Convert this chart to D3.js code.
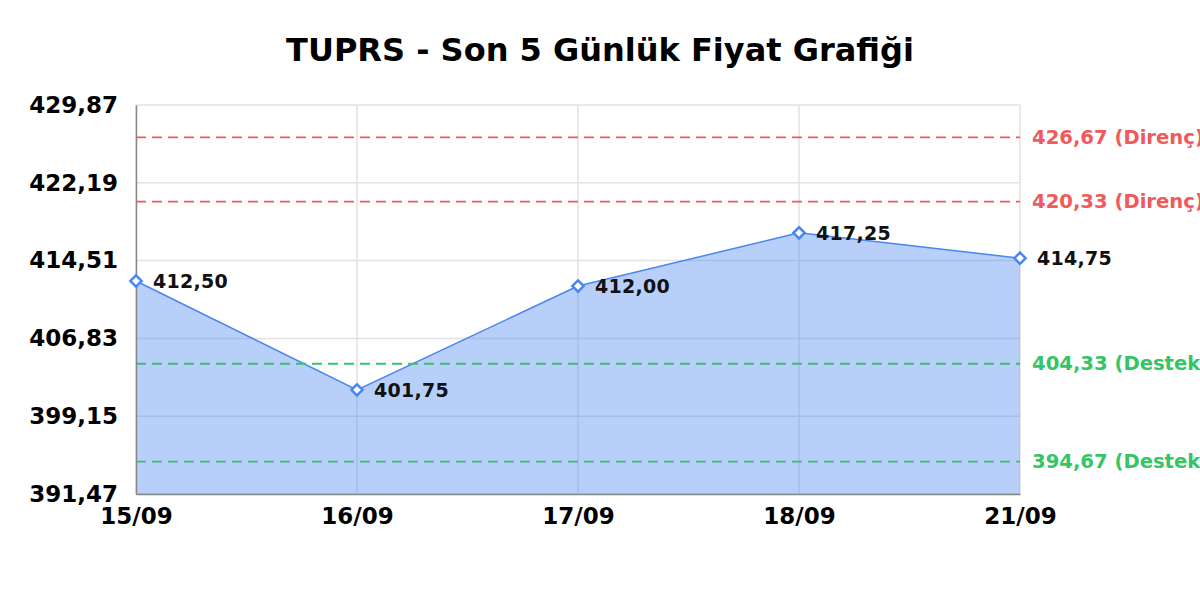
<!DOCTYPE html>
<html>
<head>
<meta charset="utf-8">
<script src="https://cdn.jsdelivr.net/npm/d3@7"></script>
<style>
  body { margin: 0; background: #fff; }
  svg { display: block; font-family: "DejaVu Sans", sans-serif; }
</style>
</head>
<body>
<div id="chart"></div>
<script>
const width = 1200;
const height = 600;
const margin = { top: 105, right: 180, bottom: 106, left: 136 };
const innerWidth = width - margin.left - margin.right;
const innerHeight = height - margin.top - margin.bottom;

// data
const dates = ["15/09", "16/09", "17/09", "18/09", "21/09"];
const prices = [412.50, 401.75, 412.00, 417.25, 414.75];
const yTicks = [391.47, 399.15, 406.83, 414.51, 422.19, 429.87];
const resistance = [426.67, 420.33];
const support = [404.33, 394.67];

const fmt = v => d3.format(".2f")(v).replace(".", ",");

const svg = d3.select("#chart")
  .append("svg")
  .attr("width", width)
  .attr("height", height);

svg.append("text")
  .attr("x", width / 2)
  .attr("y", 61)
  .attr("text-anchor", "middle")
  .style("font-size", "32px")
  .style("font-weight", "bold")
  .text("TUPRS - Son 5 Günlük Fiyat Grafiği");

const g = svg.append("g")
  .attr("transform", `translate(${margin.left},${margin.top})`);

const xScale = d3.scalePoint()
  .domain(dates)
  .range([0, innerWidth]);

const yScale = d3.scaleLinear()
  .domain([yTicks[0], yTicks[yTicks.length - 1]])
  .range([innerHeight, 0]);

// grid
g.append("g")
  .selectAll("line")
  .data(yTicks)
  .join("line")
  .attr("x1", 0)
  .attr("x2", innerWidth)
  .attr("y1", d => yScale(d))
  .attr("y2", d => yScale(d))
  .attr("stroke", "#e2e2e2")
  .attr("stroke-width", 1.5);

g.append("g")
  .selectAll("line")
  .data(dates)
  .join("line")
  .attr("x1", d => xScale(d))
  .attr("x2", d => xScale(d))
  .attr("y1", 0)
  .attr("y2", innerHeight)
  .attr("stroke", "#e2e2e2")
  .attr("stroke-width", 1.5);

// area + line
const points = dates.map((d, i) => ({ date: d, price: prices[i] }));

const area = d3.area()
  .x(d => xScale(d.date))
  .y0(innerHeight)
  .y1(d => yScale(d.price));

const line = d3.line()
  .x(d => xScale(d.date))
  .y(d => yScale(d.price));

g.append("path")
  .datum(points)
  .attr("d", area)
  .attr("fill", "#4a86f0")
  .attr("fill-opacity", 0.4);

g.append("path")
  .datum(points)
  .attr("d", line)
  .attr("fill", "none")
  .attr("stroke", "#4a86f0")
  .attr("stroke-width", 1.5);

// support / resistance lines
const levels = resistance.map(v => ({ v, label: "Direnç", color: "#f05a5a" }))
  .concat(support.map(v => ({ v, label: "Destek", color: "#33c566" })));

g.append("g")
  .selectAll("line")
  .data(levels)
  .join("line")
  .attr("x1", 0)
  .attr("x2", innerWidth)
  .attr("y1", d => yScale(d.v))
  .attr("y2", d => yScale(d.v))
  .attr("stroke", d => d.color)
  .attr("stroke-width", 1.8)
  .attr("stroke-dasharray", "10,6");

g.append("g")
  .selectAll("text")
  .data(levels)
  .join("text")
  .attr("x", innerWidth + 12)
  .attr("y", d => yScale(d.v))
  .attr("dominant-baseline", "central")
  .attr("fill", d => d.color)
  .style("font-size", "19.6px")
  .style("font-weight", "bold")
  .text(d => `${fmt(d.v)} (${d.label})`);

// axes
const yAxis = d3.axisLeft(yScale)
  .tickValues(yTicks)
  .tickSize(0)
  .tickPadding(18)
  .tickFormat(fmt);

const yAxisG = g.append("g").call(yAxis);
yAxisG.select(".domain").attr("stroke", "#888").attr("stroke-width", 1.5);
yAxisG.selectAll("text")
  .style("font-size", "23px")
  .style("font-weight", "bold")
  .style("font-family", "DejaVu Sans")
  .attr("fill", "#000");

const xAxis = d3.axisBottom(xScale)
  .tickSize(0)
  .tickPadding(14);

const xAxisG = g.append("g")
  .attr("transform", `translate(0,${innerHeight})`)
  .call(xAxis);
xAxisG.select(".domain").attr("stroke", "#888").attr("stroke-width", 1.5);
xAxisG.selectAll("text")
  .style("font-size", "23px")
  .style("font-weight", "bold")
  .style("font-family", "DejaVu Sans")
  .attr("fill", "#000");

// markers + value labels
g.append("g")
  .selectAll("path")
  .data(points)
  .join("path")
  .attr("d", d3.symbol().type(d3.symbolDiamond2).size(80))
  .attr("transform", d => `translate(${xScale(d.date)},${yScale(d.price)})`)
  .attr("fill", "#fff")
  .attr("stroke", "#4a86f0")
  .attr("stroke-width", 2.5);

g.append("g")
  .selectAll("text")
  .data(points)
  .join("text")
  .attr("x", d => xScale(d.date) + 17)
  .attr("y", d => yScale(d.price))
  .attr("dominant-baseline", "central")
  .attr("fill", "#111")
  .style("font-size", "19px")
  .style("font-weight", "bold")
  .style("letter-spacing", "0.3px")
  .text(d => fmt(d.price));
</script>
</body>
</html>
